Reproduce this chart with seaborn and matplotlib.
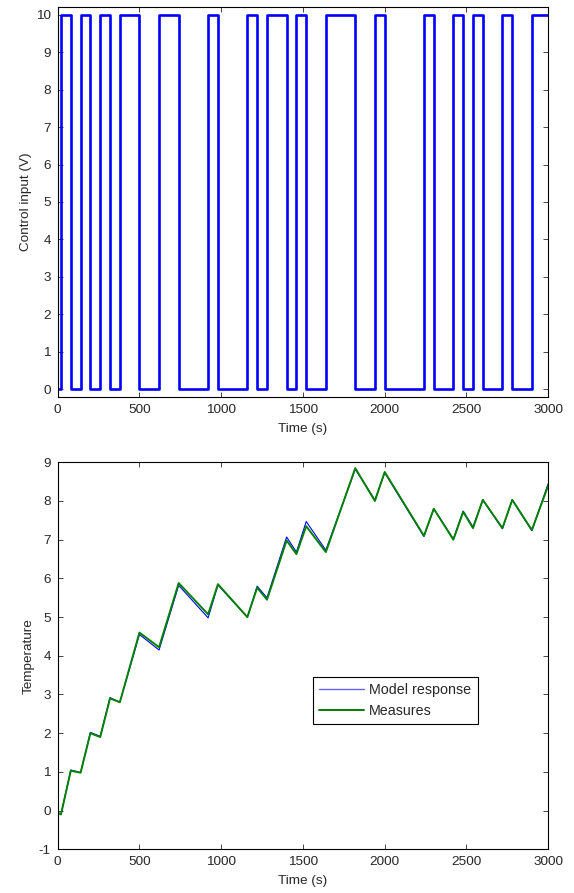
import numpy as np
import pandas as pd
import seaborn as sns
import matplotlib
matplotlib.use("Agg")
import matplotlib.pyplot as plt

# switching instants (s)
time = [0, 20, 80, 140, 200, 260, 320, 380, 500, 620, 740, 920, 980, 1160, 1220,
        1280, 1400, 1460, 1520, 1640, 1820, 1940, 2000, 2240, 2300, 2420, 2480,
        2540, 2600, 2720, 2780, 2900, 3000]

# control input (V), held until next instant
control = [0, 10, 0, 10, 0, 10, 0, 10, 0, 10, 0, 10, 0, 10, 0,
           10, 0, 10, 0, 10, 0, 10, 0, 10, 0, 10, 0,
           10, 0, 10, 0, 10, 10]

# temperature at switching instants
model_resp = [-0.05, -0.1, 1.05, 0.98, 2.02, 1.92, 2.92, 2.8, 4.55, 4.15, 5.82, 4.98, 5.83, 5.0, 5.8,
              5.5, 7.07, 6.68, 7.47, 6.73, 8.82, 8.03, 8.73, 7.08, 7.8, 7.02, 7.74,
              7.33, 8.03, 7.28, 8.03, 7.23, 8.45]
measures = [-0.05, -0.1, 1.03, 0.98, 2.0, 1.9, 2.9, 2.8, 4.6, 4.22, 5.88, 5.07, 5.85, 5.0, 5.76,
            5.45, 6.98, 6.63, 7.35, 6.68, 8.85, 8.0, 8.75, 7.1, 7.8, 7.0, 7.72,
            7.3, 8.03, 7.3, 8.03, 7.25, 8.4]

sns.set_style("ticks")
plt.rcParams['font.family'] = ['Liberation Sans', 'DejaVu Sans']
plt.rcParams['font.size'] = 9.7
plt.rcParams['axes.unicode_minus'] = False
plt.rcParams['xtick.direction'] = 'in'
plt.rcParams['ytick.direction'] = 'in'
plt.rcParams['axes.linewidth'] = 0.8

W, H = 574, 893
fig = plt.figure(figsize=(W / 100, H / 100), dpi=100)

# --- control input
ax1 = fig.add_axes([57.7 / W, (H - 396.7) / H, 490.5 / W, 389.4 / H])
df_u = pd.DataFrame({'t': time, 'u': control})
sns.lineplot(data=df_u, x='t', y='u', ax=ax1, color='#0000ff', linewidth=1.9,
             drawstyle='steps-post')
ax1.set_xlim(0, 3000)
ax1.set_ylim(-0.2, 10.2)
ax1.set_xticks(range(0, 3001, 500))
ax1.set_yticks(range(0, 11))
ax1.set_xlabel('Time (s)', labelpad=5)
ax1.set_ylabel('Control input (V)', labelpad=3)

# --- temperature
ax2 = fig.add_axes([57.7 / W, (H - 849.3) / H, 490.5 / W, 387.0 / H])
df_t = pd.DataFrame({'t': time, 'Model response': model_resp, 'Measures': measures})
sns.lineplot(data=df_t, x='t', y='Model response', ax=ax2, color='#0000ff',
             linewidth=0.8, label='Model response')
sns.lineplot(data=df_t, x='t', y='Measures', ax=ax2, color='#008000',
             linewidth=1.4, label='Measures')
ax2.set_xlim(0, 3000)
ax2.set_ylim(-1, 9)
ax2.set_xticks(range(0, 3001, 500))
ax2.set_yticks(range(-1, 10))
ax2.set_xlabel('Time (s)', labelpad=5)
ax2.set_ylabel('Temperature', labelpad=3)
leg = ax2.legend(loc='upper left', bbox_to_anchor=(0.52, 0.446), fancybox=False,
                 framealpha=1, edgecolor='black', handlelength=3.1, borderpad=0.45,
                 labelspacing=0.45, handletextpad=0.4, borderaxespad=0, fontsize=10.3)
leg.get_frame().set_linewidth(0.8)
leg.get_lines()[0].set_linewidth(1.0)
leg.get_lines()[0].set_alpha(0.6)

for ax in (ax1, ax2):
    ax.tick_params(top=True, right=True, length=3.5, width=0.6, pad=5)
    for s in ax.spines.values():
        s.set_visible(True)
        s.set_color('black')

fig.savefig('out.png', dpi=100)
